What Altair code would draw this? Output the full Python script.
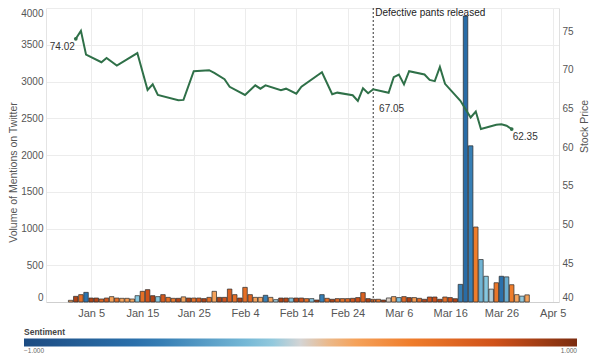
import altair as alt
import pandas as pd

# ---- Twitter mentions (daily, Jan 1 - Mar 31 2013) ----
mention_dates = pd.date_range("2013-01-01", "2013-03-31", freq="D").strftime("%Y/%m/%d").tolist()
mentions = [
    23, 77, 100, 131, 54, 54, 41, 54, 73, 54, 50, 50, 41, 86, 145, 168, 86, 73, 100, 63,
    50, 50, 70, 54, 54, 54, 46, 63, 145, 63, 63,
    176, 100, 54, 199, 100, 63, 63, 91, 63, 32, 54, 54, 54, 54, 54, 46, 46, 27, 100, 50,
    37, 46, 46, 46, 50, 60, 128, 46,
    37, 37, 27, 55, 73, 60, 73, 60, 60, 50, 37, 68, 68, 37, 68, 60, 45, 240, 3890, 2125,
    1020, 578, 350, 175, 262, 350, 342, 235, 100, 80, 97,
]
sentiment = [
    0.18, 0.82, 0.5, -0.55, 0.82, 0.8, 0.55, 0.65, 0.2, 0.5, 0.2, 0.25, 0.18, -0.12, 0.5,
    0.7, 0.82, -0.12, 0.65, 0.5, 0.45, 0.8, 0.2, 0.82, 0.5, 0.65, 0.82, 0.5, 0.2, 0.82, 0.7,
    0.6, 0.5, 0.82, 0.5, 0.55, 0.2, 0.18, -0.5, 0.2, -0.08, 0.82, 0.78, -0.15, 0.8, 0.7,
    0.5, -0.15, 0.82, -0.5, 0.5, 0.82, 0.55, 0.5, 0.55, 0.7, 0.72, 0.6, 0.82,
    0.55, 0.5, 0.82, 0.02, 0.2, -0.15, 0.55, 0.82, 0.25, 0.55, 0.82, 0.7, 0.72, 0.82, 0.5,
    0.72, 0.8, -0.5, -0.65, -0.5, 0.4, -0.22, -0.12, -0.05, 0.45, -0.6, -0.25, 0.4, 0.18,
    -0.1, 0.2,
]

# ---- Stock price (trading days) ----
price_dates = [
    "2013/01/02", "2013/01/03", "2013/01/04", "2013/01/07", "2013/01/08", "2013/01/10",
    "2013/01/14", "2013/01/16", "2013/01/17", "2013/01/18", "2013/01/22", "2013/01/23",
    "2013/01/25", "2013/01/28", "2013/01/29", "2013/01/31", "2013/02/01", "2013/02/04",
    "2013/02/06", "2013/02/07", "2013/02/08", "2013/02/11", "2013/02/12", "2013/02/14",
    "2013/02/15", "2013/02/19", "2013/02/21", "2013/02/22", "2013/02/25", "2013/02/26",
    "2013/02/27", "2013/02/28", "2013/03/01", "2013/03/04", "2013/03/05", "2013/03/06",
    "2013/03/07", "2013/03/08", "2013/03/11", "2013/03/12", "2013/03/13", "2013/03/14",
    "2013/03/15", "2013/03/18", "2013/03/20", "2013/03/21", "2013/03/22", "2013/03/25",
    "2013/03/26", "2013/03/27", "2013/03/28",
]
prices = [
    74.02, 75.04, 71.97, 70.99, 71.54, 70.56, 72.18, 67.40, 68.13, 66.76, 66.08, 66.12,
    69.83, 69.96, 69.60, 68.80, 67.82, 66.76, 68.00, 67.57, 68.00, 67.36, 67.57, 66.93,
    67.82, 69.70, 66.85, 67.06, 66.72, 66.00, 67.62, 66.98, 67.49, 67.05, 69.07, 69.40,
    68.13, 69.83, 69.40, 68.70, 68.55, 70.38, 68.20, 66.00, 63.85, 64.62, 62.37, 62.92,
    62.98, 62.79, 62.35,
]

# ---- annotations / ticks ----
event_dates = ["2013/03/01"]
event_text = ["Defective pants released"]
x_tick_dates = [(2013, 1, 5), (2013, 1, 15), (2013, 1, 25), (2013, 2, 4), (2013, 2, 14),
                (2013, 2, 24), (2013, 3, 6), (2013, 3, 16), (2013, 3, 26), (2013, 4, 5)]
left_ticks = [0, 500, 1000, 1500, 2000, 2500, 3000, 3500, 4000]
right_ticks = [40, 45, 50, 55, 60, 65, 70, 75]
legend_ticks = [-1, 1]
sent_stops = [-1, -0.55, -0.12, 0, 0.15, 0.4, 0.7, 1]
sent_colors = ["#1c4b82", "#2d75b0", "#86c7df", "#d4d4d4", "#f7ab66", "#ef7d2c", "#d0521a", "#7b2c10"]

df_m = pd.DataFrame({"date": mention_dates, "mentions": mentions, "sentiment": sentiment})
df_p = pd.DataFrame({"date": price_dates, "price": prices})
df_e = pd.DataFrame({"date": event_dates, "text": event_text})
df_lab = df_p.iloc[[0, price_dates.index("2013/03/04"), len(prices) - 1]].copy()
df_lab["text"] = df_lab["price"].map(lambda v: f"{v:.2f}")

FONT = "Arial"
xscale = alt.Scale(domain=[alt.DateTime(year=2012, month=12, date=28, hours=4),
                           alt.DateTime(year=2013, month=4, date=5, hours=6)])

x_enc = alt.X(
    "date:T", scale=xscale, title=None,
    axis=alt.Axis(values=[alt.DateTime(year=y, month=m, date=d) for (y, m, d) in x_tick_dates],
                  format="%b %-d", grid=True, gridColor="#ececec", ticks=False,
                  labelFontSize=11, labelColor="#555", labelPadding=5, labelFlush=3,
                  domainColor="#cfcfcf", labelFont=FONT),
)

bars = alt.Chart(df_m).mark_bar(size=4.5, stroke="#2b2b2b", strokeWidth=0.8, strokeOpacity=0.9).encode(
    x=x_enc,
    y=alt.Y("mentions:Q", scale=alt.Scale(domain=[0, 4000], nice=False),
            axis=alt.Axis(values=left_ticks, format="d", title="Volume of Mentions on Twitter",
                          grid=True, gridColor="#ececec", ticks=False, labelFlush=True,
                          labelFontSize=10, labelColor="#555", labelPadding=3, labelFont=FONT,
                          titleFont=FONT, titleFontSize=10.5, titleFontWeight="normal",
                          titleColor="#555", titlePadding=2, titleY=164,
                          domainColor="#e4e4e4")),
    color=alt.Color("sentiment:Q",
                    scale=alt.Scale(domain=sent_stops, range=sent_colors, interpolate="rgb"),
                    legend=alt.Legend(title="Sentiment", orient="none", direction="horizontal",
                                      legendX=-22, legendY=320, gradientLength=553,
                                      gradientThickness=8, gradientStrokeWidth=0,
                                      titleFontSize=8.5, titleFont=FONT, titleFontWeight="bold",
                                      titleColor="#444", titlePadding=2,
                                      labelFontSize=6.5, labelColor="#666", labelOffset=1,
                                      labelFont=FONT, values=legend_ticks, format=".3f")),
)

rule = alt.Chart(df_e).mark_rule(color="#333333", strokeDash=[2, 2], strokeWidth=1).encode(
    x=alt.X("date:T", scale=xscale)
)
event_label = alt.Chart(df_e).mark_text(align="left", baseline="top", dx=2, fontSize=10,
                                        font=FONT, color="#222").encode(
    x=alt.X("date:T", scale=xscale), y=alt.value(0), text="text:N"
)

yprice = alt.Scale(domain=[40, 78], nice=False, zero=False)
line = alt.Chart(df_p).mark_line(color="#2f7048", strokeWidth=2).encode(
    x=alt.X("date:T", scale=xscale),
    y=alt.Y("price:Q", scale=yprice,
            axis=alt.Axis(orient="right", values=right_ticks, title="Stock Price", grid=False,
                          ticks=False, labelFlush=True, labelFontSize=10, labelColor="#555",
                          labelPadding=3, labelFont=FONT, titleFont=FONT, titleFontSize=10.5,
                          titleFontWeight="normal", titleColor="#555", titleAngle=270,
                          titleBaseline="top", titlePadding=6, titleY=118,
                          domainColor="#e0e0e0")),
)
ends = alt.Chart(df_lab.iloc[[0, 2]]).mark_point(filled=True, size=14, color="#2f7048", opacity=1).encode(
    x=alt.X("date:T", scale=xscale), y=alt.Y("price:Q", scale=yprice)
)


def lab(i, **kw):
    return alt.Chart(df_lab.iloc[[i]]).mark_text(fontSize=10, font=FONT, color="#333",
                                                 baseline="middle", **kw).encode(
        x=alt.X("date:T", scale=xscale), y=alt.Y("price:Q", scale=yprice), text="text:N"
    )


lab_start = lab(0, align="right", dx=-1, dy=8)
lab_mid = lab(1, align="center", dx=3, dy=16)
lab_end = lab(2, align="left", dx=1, dy=8)

left = alt.layer(bars, rule, event_label)
right = alt.layer(line, ends, lab_start, lab_mid, lab_end)

chart = alt.layer(left, right).resolve_scale(y="independent").properties(
    width=513, height=294,
    padding={"left": 38, "right": 33, "top": 0, "bottom": 53},
    autosize=alt.AutoSizeParams(type="none"),
).configure_view(stroke=None)

chart.save("out.html", embed_options={"renderer": "svg", "actions": False})
